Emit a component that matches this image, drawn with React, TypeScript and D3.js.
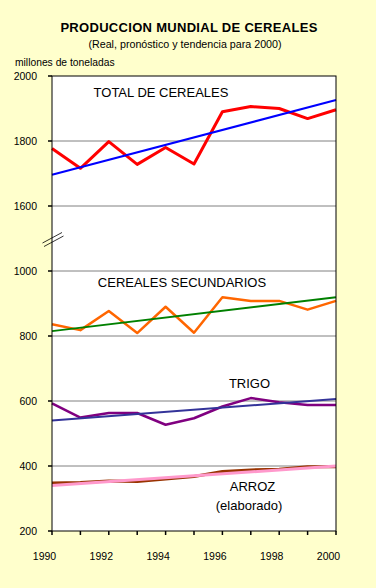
import React from "react";
import * as d3 from "d3";

const years = [1990, 1991, 1992, 1993, 1994, 1995, 1996, 1997, 1998, 1999, 2000];
const totalReal = [1777, 1716, 1798, 1728, 1780, 1729, 1890, 1906, 1900, 1869, 1896];
const totalTrend = [1696, 1926];
const secReal = [836, 818, 877, 809, 890, 810, 919, 908, 908, 881, 908];
const secTrend = [815, 919];
const trigoReal = [593, 549, 563, 563, 527, 547, 583, 609, 596, 588, 588];
const trigoTrend = [540, 606];
const arrozReal = [348, 349, 354, 352, 360, 368, 383, 388, 390, 398, 398];
const arrozTrend = [340, 400];
const trendYears = [1990, 2000];
const yTicks = [2000, 1800, 1600, 1000, 800, 600, 400, 200];
const gridValues = [1800, 1600, 1000, 800, 600, 400];
const xLabelYears = [1990, 1992, 1994, 1996, 1998, 2000];

const W = 376, H = 588;
const L = 52, R = 336, T = 76, B = 531;

export default function App() {
  const x = d3.scaleLinear().domain([1990, 2000]).range([L, R]);
  const y = d3.scaleLinear().domain([200, 1000, 1600, 2000]).range([B, 271, 206, T]);
  const line = d3.line<[number, number]>().x(d => x(d[0])).y(d => y(d[1]));
  const pts = (vals: number[], yrs: number[]) => vals.map((v, i) => [yrs[i], v] as [number, number]);
  const font = "'Liberation Sans', Arial, sans-serif";

  const series = [
    { d: pts(totalReal, years), c: "#FF0000", w: 3 },
    { d: pts(totalTrend, trendYears), c: "#0000FF", w: 2 },
    { d: pts(secReal, years), c: "#FF6600", w: 2.5 },
    { d: pts(secTrend, trendYears), c: "#008000", w: 2 },
    { d: pts(trigoReal, years), c: "#800080", w: 2.5 },
    { d: pts(trigoTrend, trendYears), c: "#333399", w: 2 },
    { d: pts(arrozReal, years), c: "#993300", w: 3 },
    { d: pts(arrozTrend, trendYears), c: "#FF99CC", w: 3 },
  ];

  return (
    <svg width={W} height={H} style={{ position: "absolute", left: 0, top: 0 }} fontFamily={font}>
      <rect x={0} y={0} width={W} height={H} fill="#FFFFCC" />
      <text x={189} y={32} textAnchor="middle" fontSize={13} fontWeight="bold" letterSpacing={0.3}>PRODUCCION MUNDIAL DE CEREALES</text>
      <text x={185} y={48} textAnchor="middle" fontSize={10.7}>(Real, pronóstico y tendencia para 2000)</text>
      <text x={15} y={66} fontSize={10.3}>millones de toneladas</text>
      <rect x={L} y={T} width={R - L} height={B - T} fill="#FFFFFF" />
      {gridValues.map(v => (
        <line key={v} x1={L} x2={R} y1={y(v)} y2={y(v)} stroke="#808080" strokeWidth={1} />
      ))}
      {series.map((s, i) => (
        <path key={i} d={line(s.d) || ""} fill="none" stroke={s.c} strokeWidth={s.w} strokeLinejoin="round" />
      ))}
      <rect x={L} y={T} width={R - L} height={B - T} fill="none" stroke="#000" strokeWidth={1} />
      {yTicks.map(v => (
        <g key={v}>
          <line x1={L - 4} x2={L} y1={y(v)} y2={y(v)} stroke="#000" strokeWidth={1.5} />
          <text x={37} y={y(v) + 4} textAnchor="end" fontSize={10.5}>{v}</text>
        </g>
      ))}
      {years.map(yr => (
        <line key={yr} x1={x(yr)} x2={x(yr)} y1={B} y2={B + 4} stroke="#000" strokeWidth={1.5} />
      ))}
      {xLabelYears.map(yr => (
        <text key={yr} x={x(yr) - 7.5} y={559.5} textAnchor="middle" fontSize={10.5}>{yr}</text>
      ))}
      <line x1={42.5} y1={243} x2={62} y2={232.5} stroke="#000" strokeWidth={0.8} />
      <line x1={44} y1={246.5} x2={63.5} y2={236} stroke="#000" strokeWidth={0.8} />
      <text x={161} y={97} textAnchor="middle" fontSize={13}>TOTAL DE CEREALES</text>
      <text x={182} y={287} textAnchor="middle" fontSize={13}>CEREALES SECUNDARIOS</text>
      <text x={249.5} y={387.5} textAnchor="middle" fontSize={13}>TRIGO</text>
      <text x={252.5} y={491} textAnchor="middle" fontSize={13}>ARROZ</text>
      <text x={249} y={510} textAnchor="middle" fontSize={13}>(elaborado)</text>
    </svg>
  );
}
